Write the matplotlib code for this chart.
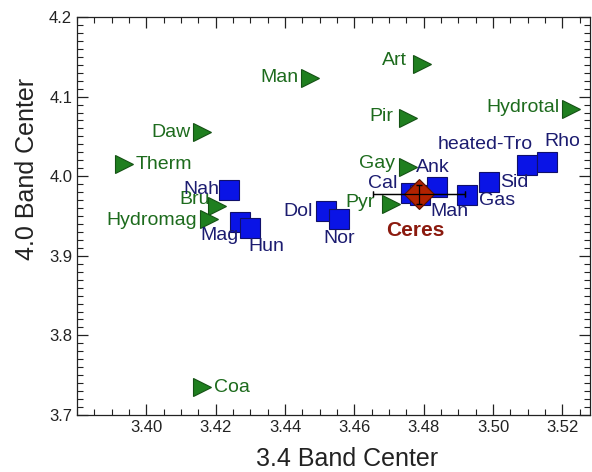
import numpy as np
import matplotlib
matplotlib.use("Agg")
import matplotlib.pyplot as plt
from matplotlib.ticker import MultipleLocator

plt.rcParams['font.family'] = ['Liberation Sans', 'DejaVu Sans']

# green triangles (hydrated / other minerals)
tri_names = ["Therm", "Daw", "Bru", "Hydromag", "Coa", "Man", "Art", "Pir", "Gay", "Pyr", "Hydrotal"]
tri_x = [3.3937, 3.4160, 3.4205, 3.4180, 3.4160, 3.4473, 3.4794, 3.4755, 3.4755, 3.4705, 3.5225]
tri_y = [4.0153, 4.0555, 3.9626, 3.9460, 3.7350, 4.1237, 4.1410, 4.0727, 4.0120, 3.9650, 4.0844]

# blue squares (carbonates)
sq_names = ["Nah", "Mag", "Hun", "Dol", "Nor", "Cal", "Man", "Ank", "Gas", "Sid", "heated-Tro", "Rho"]
sq_x = [3.4239, 3.4269, 3.4299, 3.4517, 3.4557, 3.4765, 3.4790, 3.4838, 3.4926, 3.4988, 3.5098, 3.5156]
sq_y = [3.9823, 3.9430, 3.9355, 3.9560, 3.9460, 3.9785, 3.9760, 3.9860, 3.9764, 3.9930, 4.0140, 4.0180]

# Ceres with error bars
ceres_x = 3.4786
ceres_y = 3.9773
ceres_xerr = 0.0133
ceres_yerr = 0.012

x_ticks = [3.40, 3.42, 3.44, 3.46, 3.48, 3.50, 3.52]

# label offsets in pixels (dx, dy, ha)
tri_off = [(11, 0, 'left'), (-11, 0, 'right'), (-8, 6, 'right'), (-12, -1, 'right'),
           (12, 0, 'left'), (-12, 0, 'right'), (-15, 3, 'right'), (-15, 2, 'right'),
           (-13, 3, 'right'), (-16, 2, 'right'), (-11, 2, 'right')]
sq_off = [(-10, 1, 'right'), (-1, -14, 'right'), (-2, -19, 'left'), (-13, 0, 'right'),
          (0, -19, 'center'), (-14, 10, 'right'), (10, -16, 'left'), (-4, 20, 'center'),
          (12, -6, 'left'), (11, -1, 'left'), (6, 21, 'right'), (15, 20, 'center')]

green_txt = "#1d6b1d"
blue_txt = "#1c1c70"

fig = plt.figure(figsize=(5.92, 4.72), dpi=100)
ax = fig.add_axes([77/592, 57/472, 513/592, 398/472])

ax.plot(tri_x, tri_y, linestyle='none', marker='>', markersize=13.5,
        markerfacecolor='#1f7f1f', markeredgecolor='#145214', markeredgewidth=0.8, zorder=3)
ax.plot(sq_x, sq_y, linestyle='none', marker='s', markersize=14,
        markerfacecolor='#0a14e6', markeredgecolor='#10106a', markeredgewidth=0.8, zorder=3)

ax.errorbar([ceres_x], [ceres_y], xerr=[ceres_xerr], yerr=[ceres_yerr], fmt='D',
            markersize=15.5, markerfacecolor='#b22200', markeredgecolor='#5a1000',
            markeredgewidth=0.8, ecolor='black', elinewidth=0.9, capsize=2.5, zorder=5)
# error lines drawn over the diamond
ax.errorbar([ceres_x], [ceres_y], xerr=[ceres_xerr], yerr=[ceres_yerr], fmt='none',
            ecolor='black', elinewidth=0.9, capsize=2.5, zorder=6)

def place(names, xs, ys, offs, color):
    for n, x, y, (dx, dy, ha) in zip(names, xs, ys, offs):
        ax.annotate(n, (x, y), xytext=(dx, dy), textcoords='offset pixels',
                    ha=ha, va='center', fontsize=14, color=color, zorder=7)

place(tri_names, tri_x, tri_y, tri_off, green_txt)
place(sq_names, sq_x, sq_y, sq_off, blue_txt)

ax.annotate("Ceres", (ceres_x, ceres_y), xytext=(-3, -36), textcoords='offset pixels',
            ha='center', va='center', fontsize=15, fontweight='bold', color='#8b1a0e', zorder=7)

ax.set_xlim(3.38, 3.528)
ax.set_ylim(3.7, 4.2)
ax.set_xticks(x_ticks)
ax.set_xticklabels(["%.2f" % t for t in x_ticks])
ax.xaxis.set_minor_locator(MultipleLocator(0.005))
ax.yaxis.set_major_locator(MultipleLocator(0.1))
ax.yaxis.set_minor_locator(MultipleLocator(0.01))
ax.yaxis.set_major_formatter(plt.FormatStrFormatter('%.1f'))
ax.tick_params(which='both', direction='in', top=True, right=True, labelsize=12, colors='#222222')
ax.tick_params(which='major', length=8, width=0.9)
ax.tick_params(which='minor', length=4, width=0.8)
for s in ax.spines.values():
    s.set_linewidth(0.9)
    s.set_color('#222222')

fig.text(347.5/592, 1 - 459/472, "3.4 Band Center", ha='center', va='center', fontsize=18, color='#222222')
fig.text(27/592, 1 - 169/472, "4.0 Band Center", ha='center', va='center', rotation=90, fontsize=18, color='#222222')

fig.savefig("out.png", dpi=100)
